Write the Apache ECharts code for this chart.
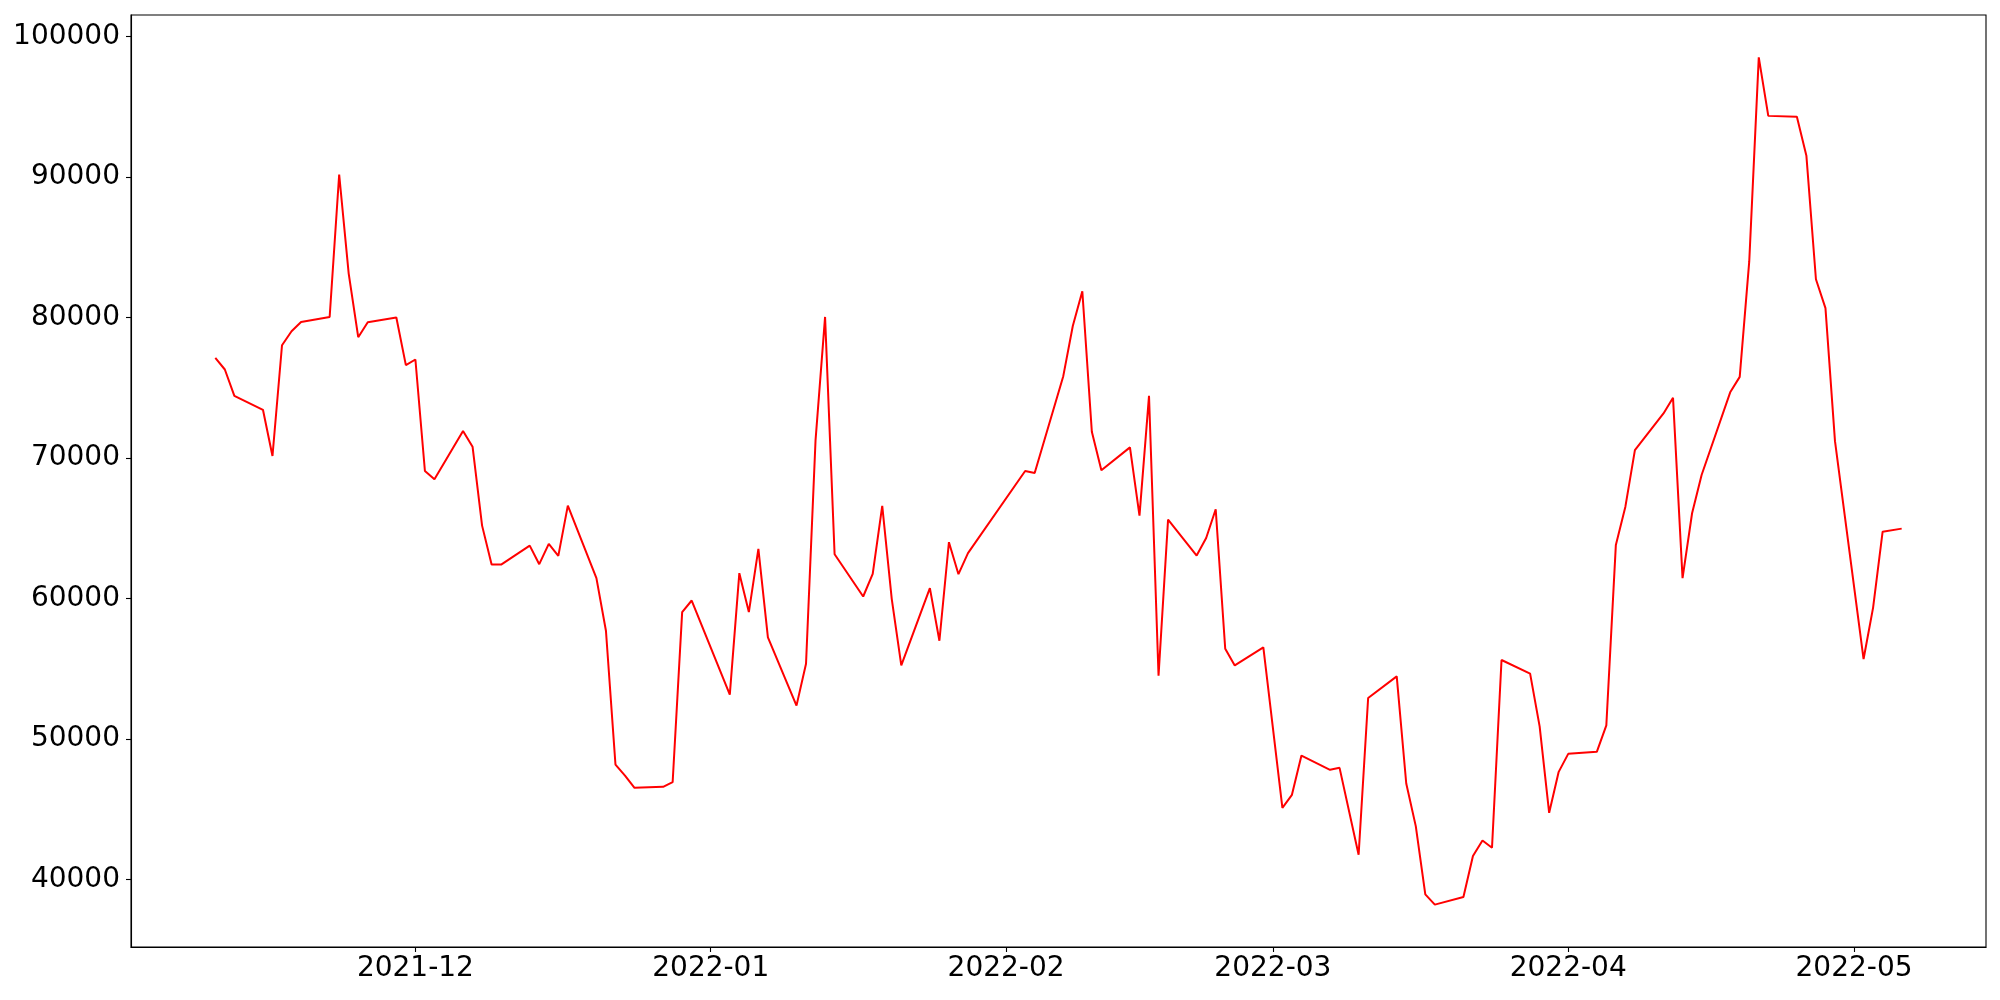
<!DOCTYPE html>
<html>
<head>
<meta charset="utf-8">
<script src="https://cdn.jsdelivr.net/npm/echarts@6/dist/echarts.min.js"></script>
<style>
  html, body { margin: 0; padding: 0; background: #fff; }
  #chart { width: 2000px; height: 1000px; }
</style>
</head>
<body>
<div id="chart"></div>
<script>
const dates = [
  '2021-11-10','2021-11-11','2021-11-12','2021-11-15','2021-11-16','2021-11-17','2021-11-18','2021-11-19',
  '2021-11-22','2021-11-23','2021-11-24','2021-11-25','2021-11-26','2021-11-29','2021-11-30',
  '2021-12-01','2021-12-02','2021-12-03','2021-12-06','2021-12-07','2021-12-08','2021-12-09','2021-12-10',
  '2021-12-13','2021-12-14','2021-12-15','2021-12-16','2021-12-17','2021-12-20','2021-12-21','2021-12-22',
  '2021-12-23','2021-12-24','2021-12-27','2021-12-28','2021-12-29','2021-12-30',
  '2022-01-03','2022-01-04','2022-01-05','2022-01-06','2022-01-07','2022-01-10','2022-01-11','2022-01-12',
  '2022-01-13','2022-01-14','2022-01-17','2022-01-18','2022-01-19','2022-01-20','2022-01-21','2022-01-24',
  '2022-01-25','2022-01-26','2022-01-27','2022-01-28',
  '2022-02-03','2022-02-04','2022-02-07','2022-02-08','2022-02-09','2022-02-10','2022-02-11','2022-02-14',
  '2022-02-15','2022-02-16','2022-02-17','2022-02-18','2022-02-21','2022-02-22','2022-02-23','2022-02-24',
  '2022-02-25','2022-02-28',
  '2022-03-02','2022-03-03','2022-03-04','2022-03-07','2022-03-08','2022-03-10','2022-03-11','2022-03-14',
  '2022-03-15','2022-03-16','2022-03-17','2022-03-18','2022-03-21','2022-03-22','2022-03-23','2022-03-24',
  '2022-03-25','2022-03-28','2022-03-29','2022-03-30','2022-03-31',
  '2022-04-01','2022-04-04','2022-04-05','2022-04-06','2022-04-07','2022-04-08','2022-04-11','2022-04-12',
  '2022-04-13','2022-04-14','2022-04-15','2022-04-18','2022-04-19','2022-04-20','2022-04-21','2022-04-22',
  '2022-04-25','2022-04-26','2022-04-27','2022-04-28','2022-04-29',
  '2022-05-02','2022-05-03','2022-05-04','2022-05-06'
];
const values = [
  77136, 76311, 74436, 73441, 70151, 78039, 79034, 79696,
  80051, 90192, 83135, 78608, 79674, 80007, 76618,
  77022, 69085, 68494, 71927, 70812, 65197, 62426, 62426,
  63776, 62453, 63897, 63044, 66618, 61458, 57713, 48190,
  47408, 46533, 46605, 46932, 59042, 59867,
  53165, 61813, 59042, 63541, 57238, 52383, 55368, 71288,
  80051, 63164, 60151, 61762, 66597, 59966, 55248, 60748,
  57003, 64017, 61740, 63235,
  69085, 68942, 75836, 79411, 81877, 71878, 69134, 70768,
  65908, 74436, 54515, 65624, 63065, 64320, 66362, 56434,
  55248, 56527,
  45112, 46036, 48830, 47813, 47955, 41772, 52930, 54465,
  46840, 43805, 38951, 38218, 38759, 41673, 42789, 42270,
  55631, 54657, 50912, 44757, 47670,
  48950, 49093, 50983, 63825, 66547, 70577, 73185, 74294,
  61458, 66078, 68800, 74685, 75786, 84002, 98529, 94364,
  94300, 91521, 82737, 80683, 71210,
  55702, 59362, 64764, 64984
];
const monthTicks = ['2021-12-01','2022-01-01','2022-02-01','2022-03-01','2022-04-01','2022-05-01'];
const yTicks = [40000, 50000, 60000, 70000, 80000, 90000, 100000];

const DAY = 86400000;
function toDay(s) {
  const p = s.split('-').map(Number);
  return Date.UTC(p[0], p[1] - 1, p[2]) / DAY;
}
const xs = dates.map(toDay);
const data = xs.map((t, i) => [t, values[i]]);

const xMinD = Math.min(...xs), xMaxD = Math.max(...xs);
const xPad = (xMaxD - xMinD) * 0.05;
const yMinD = Math.min(...values), yMaxD = Math.max(...values);
const yPad = (yMaxD - yMinD) * 0.05;

const tickDays = monthTicks.map(toDay);
const font = { fontFamily: 'DejaVu Sans', fontSize: 28, color: '#000' };

const chart = echarts.init(document.getElementById('chart'), null, { renderer: 'canvas' });
chart.setOption({
  animation: false,
  backgroundColor: '#fff',
  grid: {
    left: 131, right: 14, top: 15, bottom: 53,
    show: true, borderColor: '#000', borderWidth: 1.1, backgroundColor: 'transparent'
  },
  xAxis: {
    type: 'value',
    min: xMinD - xPad,
    max: xMaxD + xPad,
    axisLine: { show: true, lineStyle: { color: '#000', width: 1.1 } },
    axisTick: { show: true, length: 5, inside: false, lineStyle: { color: '#000', width: 1.1 }, customValues: tickDays },
    axisLabel: {
      ...font,
      margin: 8,
      customValues: tickDays,
      formatter: function (v) {
        const d = new Date(Math.round(v) * DAY);
        const m = d.getUTCMonth() + 1;
        return d.getUTCFullYear() + '-' + (m < 10 ? '0' + m : m);
      }
    },
    splitLine: { show: false }
  },
  yAxis: {
    type: 'value',
    min: yMinD - yPad,
    max: yMaxD + yPad,
    axisLine: { show: true, lineStyle: { color: '#000', width: 1.1 } },
    axisTick: { show: true, length: 5, inside: false, lineStyle: { color: '#000', width: 1.1 }, customValues: yTicks },
    axisLabel: { ...font, margin: 11, customValues: yTicks, formatter: v => String(v) },
    splitLine: { show: false }
  },
  series: [{
    type: 'line',
    data: data,
    showSymbol: false,
    symbol: 'none',
    lineStyle: { color: '#ff0000', width: 2 },
    itemStyle: { color: '#ff0000' }
  }]
});
</script>
</body>
</html>
